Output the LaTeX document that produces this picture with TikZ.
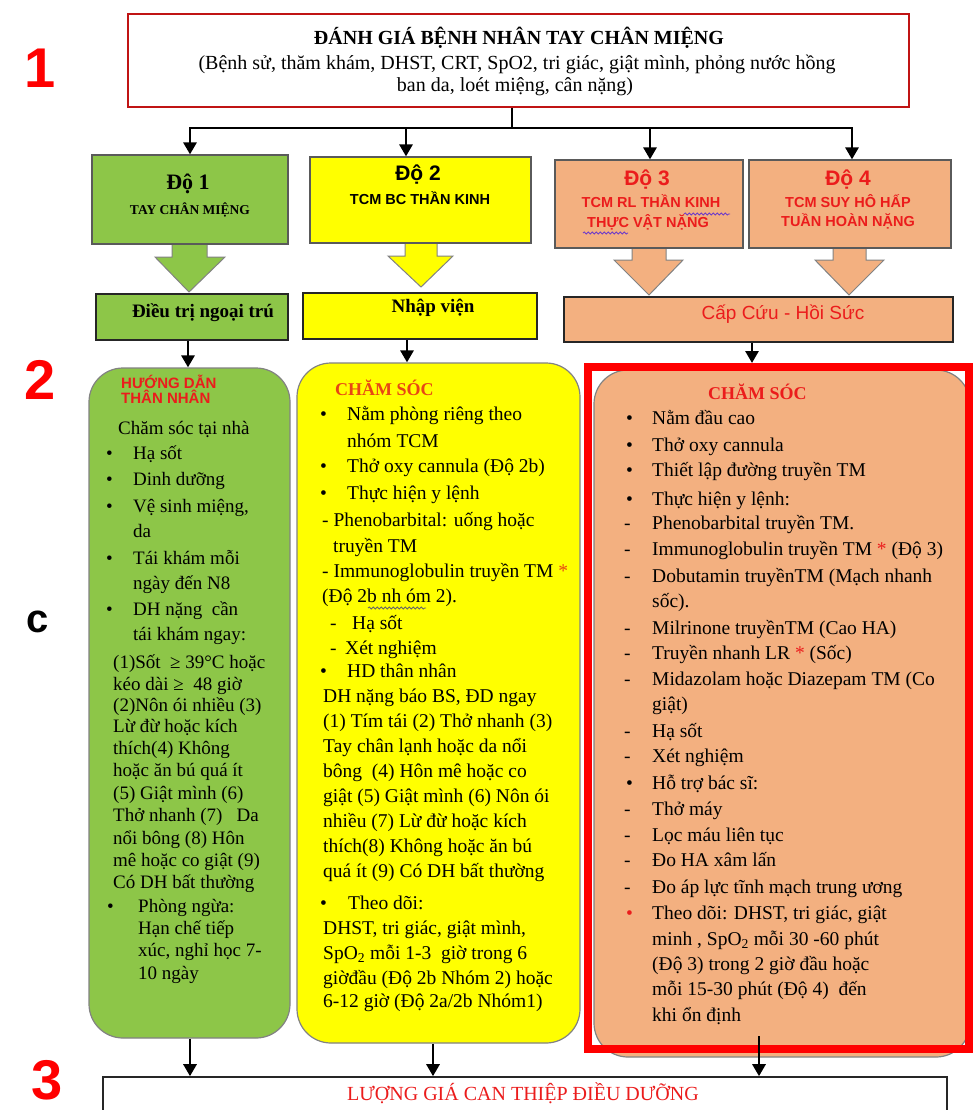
\documentclass[tikz,border=0pt]{standalone}
\usepackage{fontspec}
\setmainfont{Liberation Serif}
\newfontfamily\arialf{Liberation Sans}
\usetikzlibrary{arrows.meta,decorations.pathmorphing}
\definecolor{grn}{RGB}{141,198,72}
\definecolor{yel}{RGB}{255,255,0}
\definecolor{sal}{RGB}{243,176,128}
\definecolor{dred}{RGB}{192,20,20}
\definecolor{rtx}{RGB}{235,28,28}
\definecolor{otx}{RGB}{232,70,20}
\definecolor{bgray}{RGB}{90,90,90}
\definecolor{lgray}{RGB}{130,130,130}
\definecolor{sq}{RGB}{110,60,200}
\newcommand\fsz[1]{\fontsize{#1}{#1}\selectfont}
\newcounter{ln}
\newcommand\Tl[4][]{\stepcounter{ln}\node[tx,#1] (t\arabic{ln}) at (#2,#3) {#4};}
\begin{document}
\begin{tikzpicture}[x=1pt,y=-1pt,
  tx/.style={anchor=mid west,inner sep=0pt,font=\fsz{19.5}},
  ctx/.style={anchor=mid,inner sep=0pt},
  lbl/.style={anchor=center,inner sep=0pt,font=\arialf\bfseries\fsz{56},text=red},
  deg/.style={draw=bgray,line width=1.2pt,inner sep=0pt},
  outb/.style={draw=black!85,line width=1.8pt,inner sep=0pt},
  colb/.style={draw=lgray,line width=1.2pt,rounded corners=34pt,inner sep=0pt},
  barr/.style={draw=lgray,line width=1pt},
  arr/.style={-{Triangle[width=13pt,length=12pt]},line width=2.8pt},
  squig/.style={decorate,decoration={snake,amplitude=1.1pt,segment length=4pt},line width=0.8pt}]
\useasboundingbox (0,0) rectangle (973,1110);
\fill[white] (0,0) rectangle (973,1110);

% side labels
\node[lbl] (n1) at (40,68) {1};
\node[lbl] (n2) at (40,380) {2};
\node[lbl,text=black,font=\arialf\bfseries\fsz{40}] (nc) at (38,622) {c};
\node[lbl] (n3) at (47,1080) {3};

% top box
\node[draw=dred,line width=2pt,minimum width=781pt,minimum height=93pt,inner sep=0pt] (top) at (518.5,60.5) {};
\node[ctx,font=\bfseries\fsz{20}] (tt1) at (519,42) {ĐÁNH GIÁ BỆNH NHÂN TAY CHÂN MIỆNG};
\node[ctx,font=\fsz{20}] (tt2) at (517,67) {(Bệnh sử, thăm khám, DHST, CRT, SpO2, tri giác, giật mình, phỏng nước hồng};
\node[ctx,font=\fsz{20}] (tt3) at (515,89) {ban da, loét miệng, cân nặng)};

% block arrows (drawn before boxes)
\filldraw[barr,fill=grn] (172,244) -- (172,257) -- (155,257) -- (189,292) -- (225,257) -- (207,257) -- (207,244);
\filldraw[barr,fill=yel] (405,243) -- (405,256) -- (388,256) -- (421,287) -- (453,256) -- (437,256) -- (437,243);
\filldraw[barr,fill=sal] (632,248) -- (632,260) -- (614,260) -- (649,295) -- (683,260) -- (666,260) -- (666,248);
\filldraw[barr,fill=sal] (833,248) -- (833,260) -- (815,260) -- (849,295) -- (884,260) -- (866,260) -- (866,248);

% degree boxes
\node[deg,fill=grn,minimum width=196pt,minimum height=89pt] (d1) at (190,199.5) {};
\node[deg,fill=yel,minimum width=221pt,minimum height=86pt] (d2) at (420.5,200) {};
\node[deg,fill=sal,minimum width=188pt,minimum height=88pt] (d3) at (649,204) {};
\node[deg,fill=sal,minimum width=202pt,minimum height=88pt] (d4) at (850,204) {};

\node[ctx,font=\bfseries\fsz{22}] (d1a) at (188,187) {Độ 1};
\node[ctx,font=\bfseries\fsz{13.5}] (d1b) at (190,212) {TAY CHÂN MIỆNG};
\node[ctx,font=\arialf\bfseries\fsz{21}] (d2a) at (418,178) {Độ 2};
\node[ctx,font=\arialf\bfseries\fsz{14.5}] (d2b) at (420,202) {TCM BC THẦN KINH};
\node[ctx,font=\arialf\bfseries\fsz{21},text=rtx] (d3a) at (647,183) {Độ 3};
\node[ctx,font=\arialf\bfseries\fsz{14.5},text=rtx] (d3b) at (651,205) {TCM RL THẦN KINH};
\node[ctx,font=\arialf\bfseries\fsz{14.5},text=rtx] (d3c) at (648,225) {THỰC VẬT NẶNG};
\node[ctx,font=\arialf\bfseries\fsz{21},text=rtx] (d4a) at (848,183) {Độ 4};
\node[ctx,font=\arialf\bfseries\fsz{14.5},text=rtx] (d4b) at (848,205) {TCM SUY HÔ HẤP};
\node[ctx,font=\arialf\bfseries\fsz{14.5},text=rtx] (d4c) at (848,224) {TUẦN HOÀN NẶNG};
\draw[squig,sq] (684,214) -- (730,214);
\draw[squig,sq] (583,233) -- (628,233);

% outcome boxes
\node[outb,fill=grn,minimum width=192pt,minimum height=46pt] (o1) at (192,317) {};
\node[outb,fill=yel,minimum width=234pt,minimum height=46pt] (o2) at (420,316) {};
\node[outb,fill=sal,minimum width=389pt,minimum height=45pt] (o3) at (758.5,319.5) {};
\node[ctx,font=\bfseries\fsz{19}] (o1t) at (203,315) {Điều trị ngoại trú};
\node[ctx,font=\bfseries\fsz{19}] (o2t) at (433,310) {Nhập viện};
\node[ctx,font=\arialf\fsz{19},text=rtx] (o3t) at (783,317) {Cấp Cứu - Hồi Sức};

% connectors from top box
\coordinate (hub) at (512,128);
\coordinate (j1) at (190,128);
\coordinate (j2) at (406,128);
\coordinate (j3) at (650,128);
\coordinate (j4) at (852,128);
\draw[line width=2.8pt] (top.south -| hub) -- (hub);
\draw[line width=2.8pt,line cap=rect] (j1) -- (j4);
\draw[arr] (j1) -- (j1 |- d1.north);
\draw[arr] (j2) -- (j2 |- d2.north);
\draw[arr] (j3) -- (j3 |- d3.north);
\draw[arr] (j4) -- (j4 |- d4.north);

% column boxes
\node[colb,fill=grn,minimum width=201pt,minimum height=670pt] (c1) at (189.5,703) {};
\node[colb,fill=yel,minimum width=283pt,minimum height=680pt] (c2) at (438.5,703) {};
\node[colb,fill=sal,minimum width=376pt,minimum height=687pt] (c3) at (782,713.5) {};

\coordinate (a1) at (188,0);
\coordinate (a2) at (407,0);
\coordinate (a3) at (752,0);
\draw[arr] (o1.south -| a1) -- (c1.north -| a1);
\draw[arr] (o2.south -| a2) -- (c2.north -| a2);

% bottom box
\node[outb,line width=1.6pt,minimum width=844pt,minimum height=46pt] (bot) at (525,1100) {};
\node[ctx,font=\fsz{20},text=rtx] (bott) at (523,1098) {LƯỢNG GIÁ CAN THIỆP ĐIỀU DƯỠNG};
\coordinate (b1) at (190,0);
\coordinate (b2) at (433,0);
\coordinate (s3) at (759,1036);
\draw[arr] (c1.south -| b1) -- (bot.north -| b1);
\draw[arr] (c2.south -| b2) -- (bot.north -| b2);

% column 1 text
\begin{scope}[tx/.append style={font=\fsz{19}}]
\Tl[font=\arialf\bfseries\fsz{15},text=rtx]{121}{386}{HƯỚNG DẪN}
\Tl[font=\arialf\bfseries\fsz{15},text=rtx]{121}{401}{THÂN NHÂN}
\Tl{118}{432}{Chăm sóc tại nhà}
\Tl{106}{457}{•}\Tl{133}{457}{Hạ sốt}
\Tl{106}{483}{•}\Tl{133}{483}{Dinh dưỡng}
\Tl{106}{510}{•}\Tl{133}{510}{Vệ sinh miệng,}
\Tl{133}{535}{da}
\Tl{106}{562}{•}\Tl{133}{562}{Tái khám mỗi}
\Tl{133}{587}{ngày đến N8}
\Tl{106}{613}{•}\Tl{133}{613}{DH nặng\ \ cần}
\Tl{133}{638}{tái khám ngay:}
\Tl{113}{666}{(1)Sốt\ \ ≥ 39°C hoặc}
\Tl{113}{688}{kéo dài ≥\ \ 48 giờ}
\Tl{113}{709}{(2)Nôn ói nhiều (3)}
\Tl{113}{730}{Lừ đừ hoặc kích}
\Tl{113}{752}{thích(4) Không}
\Tl{113}{774}{hoặc ăn bú quá ít}
\Tl{113}{797}{(5) Giật mình (6)}
\Tl{113}{819}{Thở nhanh (7)\ \ \ Da}
\Tl{113}{842}{nổi bông (8) Hôn}
\Tl{113}{864}{mê hoặc co giật (9)}
\Tl{113}{886}{Có DH bất thường}
\Tl{107}{910}{•}\Tl{138}{910}{Phòng ngừa:}
\Tl{138}{932}{Hạn chế tiếp}
\Tl{138}{954}{xúc, nghỉ học 7-}
\Tl{138}{977}{10 ngày}
\end{scope}

% column 2 text
\Tl[font=\bfseries\fsz{18},text=otx]{335}{393}{CHĂM SÓC}
\Tl{320}{418}{•}\Tl{347}{418}{Nằm phòng riêng theo}
\Tl{347}{445}{nhóm TCM}
\Tl{320}{470}{•}\Tl{347}{470}{Thở oxy cannula (Độ 2b)}
\Tl{320}{497}{•}\Tl{347}{497}{Thực hiện y lệnh}
\Tl{322}{524}{- Phenobarbital: uống hoặc}
\Tl{333}{550}{truyền TM}
\Tl{322}{575}{- Immunoglobulin truyền TM {\color{otx}*}}
\Tl{322}{600}{(Độ 2b nh óm 2).}
\draw[squig,black!60] (368,608) -- (426,608);
\Tl{330}{627}{-}\Tl{352}{627}{Hạ sốt}
\Tl{330}{652}{-}\Tl{345}{652}{Xét nghiệm}
\Tl{320}{675}{•}\Tl{347}{675}{HD thân nhân}
\Tl{323}{700}{DH nặng báo BS, ĐD ngay}
\Tl{323}{725}{(1) Tím tái (2) Thở nhanh (3)}
\Tl{323}{750}{Tay chân lạnh hoặc da nổi}
\Tl{323}{775}{bông\ \ (4) Hôn mê hoặc co}
\Tl{323}{800}{giật (5) Giật mình (6) Nôn ói}
\Tl{323}{825}{nhiều (7) Lừ đừ hoặc kích}
\Tl{323}{850}{thích(8) Không hoặc ăn bú}
\Tl{323}{875}{quá ít (9) Có DH bất thường}
\Tl{320}{907}{•}\Tl{348}{907}{Theo dõi:}
\Tl{323}{932}{DHST, tri giác, giật mình,}
\Tl{323}{957}{SpO\textsubscript{2} mỗi 1-3\ \ giờ trong 6}
\Tl{323}{982}{giờđầu (Độ 2b Nhóm 2) hoặc}
\Tl{323}{1005}{6-12 giờ (Độ 2a/2b Nhóm1)}

% column 3 text
\Tl[font=\bfseries\fsz{18},text=rtx]{708}{397}{CHĂM SÓC}
\Tl{626}{422}{•}\Tl{652}{422}{Nằm đầu cao}
\Tl{626}{449}{•}\Tl{652}{449}{Thở oxy cannula}
\Tl{626}{474}{•}\Tl{652}{474}{Thiết lập đường truyền TM}
\Tl{626}{503}{•}\Tl{652}{503}{Thực hiện y lệnh:}
\Tl{624}{527}{-}\Tl{652}{527}{Phenobarbital truyền TM.}
\Tl{624}{553}{-}\Tl{652}{553}{Immunoglobulin truyền TM {\color{rtx}*} (Độ 3)}
\Tl{624}{580}{-}\Tl{652}{580}{Dobutamin truyềnTM (Mạch nhanh}
\Tl{652}{605}{sốc).}
\Tl{624}{632}{-}\Tl{652}{632}{Milrinone truyềnTM (Cao HA)}
\Tl{624}{657}{-}\Tl{652}{657}{Truyền nhanh LR {\color{rtx}*} (Sốc)}
\Tl{624}{683}{-}\Tl{652}{683}{Midazolam hoặc Diazepam TM (Co}
\Tl{652}{708}{giật)}
\Tl{624}{735}{-}\Tl{652}{735}{Hạ sốt}
\Tl{624}{760}{-}\Tl{652}{760}{Xét nghiệm}
\Tl{626}{787}{•}\Tl{652}{787}{Hỗ trợ bác sĩ:}
\Tl{624}{813}{-}\Tl{652}{813}{Thở máy}
\Tl{624}{839}{-}\Tl{652}{839}{Lọc máu liên tục}
\Tl{624}{864}{-}\Tl{652}{864}{Đo HA xâm lấn}
\Tl{624}{891}{-}\Tl{652}{891}{Đo áp lực tĩnh mạch trung ương}
\Tl[text=rtx]{626}{917}{•}\Tl{652}{917}{Theo dõi: DHST, tri giác, giật}
\Tl{652}{943}{minh , SpO\textsubscript{2} mỗi 30 -60 phút}
\Tl{652}{968}{(Độ 3) trong 2 giờ đầu hoặc}
\Tl{652}{993}{mỗi 15-30 phút (Độ 4)\ \ đến}
\Tl{652}{1019}{khi ổn định}

% red highlight frame
\node[draw=red,line width=8pt,minimum width=381pt,minimum height=682pt,inner sep=0pt] (frame) at (778.5,708) {};
\draw[arr] (o3.south -| a3) -- (frame.north -| a3);
\draw[arr] (s3) -- (bot.north -| s3);
\end{tikzpicture}
\end{document}
